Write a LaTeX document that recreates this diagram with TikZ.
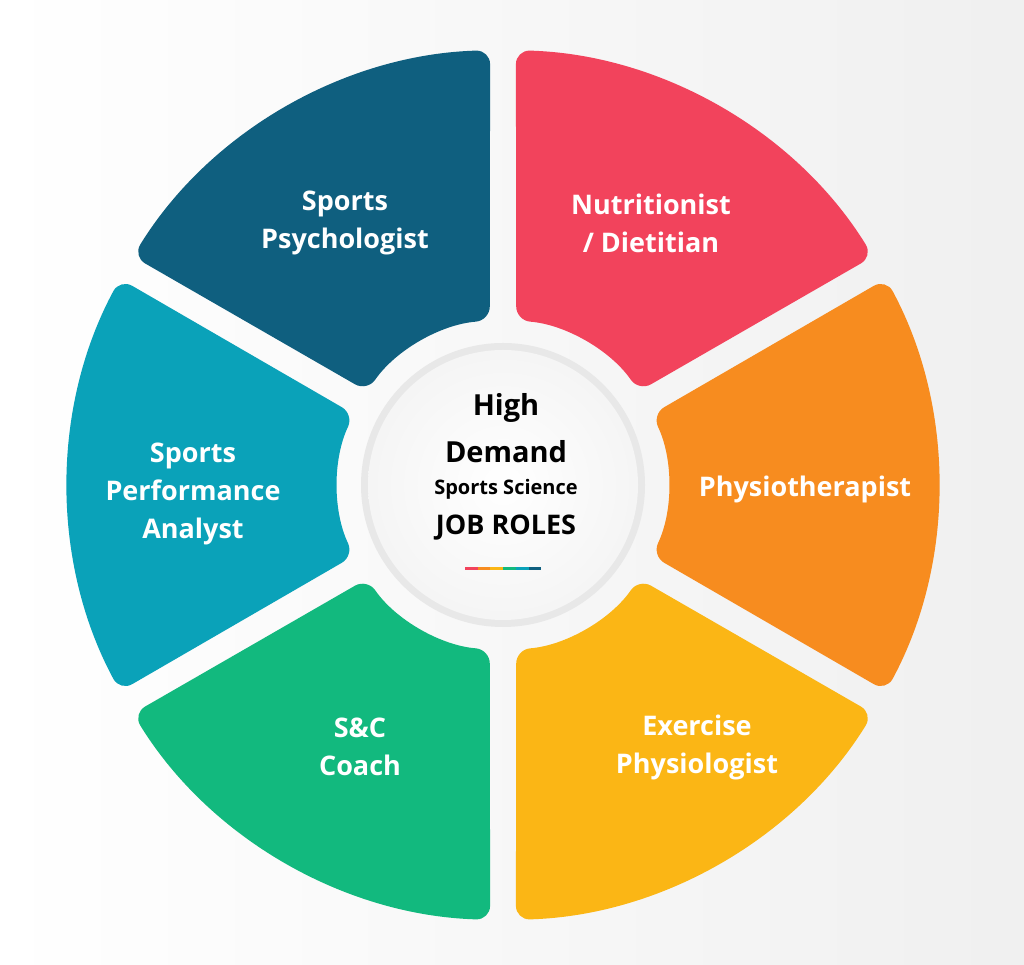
\documentclass[tikz,border=0pt]{standalone}
\usepackage{fontspec}
\setmainfont{Open Sans}
\definecolor{cpsy}{HTML}{0F5F7F}
\definecolor{cnut}{HTML}{F2435C}
\definecolor{cphy}{HTML}{F78C1F}
\definecolor{cexe}{HTML}{FBB615}
\definecolor{csc}{HTML}{12B97E}
\definecolor{cana}{HTML}{0AA2B9}
\tikzset{lab/.style={font=\bfseries\fontsize{27}{38}\selectfont,text=white,align=center}}
\newcommand{\seg}[3]{% start angle, end angle, colour
 \fill[#3,rounded corners=14pt] ({#1+2.5}:300) -- ({#1+1.7}:435) arc[start angle={#1+1.7},end angle={#2-1.7},radius=435] -- ({#2-4.6}:165) arc[start angle={#2-4.6},end angle={#1+4.6},radius=165] -- cycle;}
\begin{document}
\begin{tikzpicture}[x=1pt,y=1pt]
\shade[left color=white,right color=gray!12] (0,0) rectangle (1024,965);
\useasboundingbox (0,0) rectangle (1024,965);
\begin{scope}[shift={(503,480)}]
\seg{90}{150}{cpsy}
\seg{30}{90}{cnut}
\seg{-30}{30}{cphy}
\seg{-90}{-30}{cexe}
\seg{-150}{-90}{csc}
\seg{150}{210}{cana}
\fill[gray!18] (0,0) circle (142);
\shade[inner color=white,outer color=gray!8] (0,0) circle (135);
\node[font=\bfseries\fontsize{29}{31}\selectfont] (t1) at (3,77) {High};
\node[font=\bfseries\fontsize{29}{31}\selectfont] (t2) at (3,33) {Demand};
\node[font=\bfseries\fontsize{20}{22}\selectfont] (t3) at (3,-4) {Sports Science};
\node[font=\bfseries\fontsize{27}{29}\selectfont] (t4) at (3,-43) {JOB ROLES};
\foreach \c [count=\i] in {cnut,cphy,cexe,csc,cana,cpsy}
 \fill[\c] ({-38+(\i-1)*12.7},-82) rectangle ++(12.7,-3);
\end{scope}
\node[lab] (psy) at (345,742) {Sports\\Psychologist};
\node[lab] (nut) at (651,742) {Nutritionist\\/ Dietitian};
\node[lab] (phy) at (805,476) {Physiotherapist};
\node[lab] (exe) at (697,218) {Exercise\\Physiologist};
\node[lab] (sc) at (360,218) {S\&C\\Coach};
\node[lab] (ana) at (193,471) {Sports\\Performance\\Analyst};
\end{tikzpicture}
\end{document}
